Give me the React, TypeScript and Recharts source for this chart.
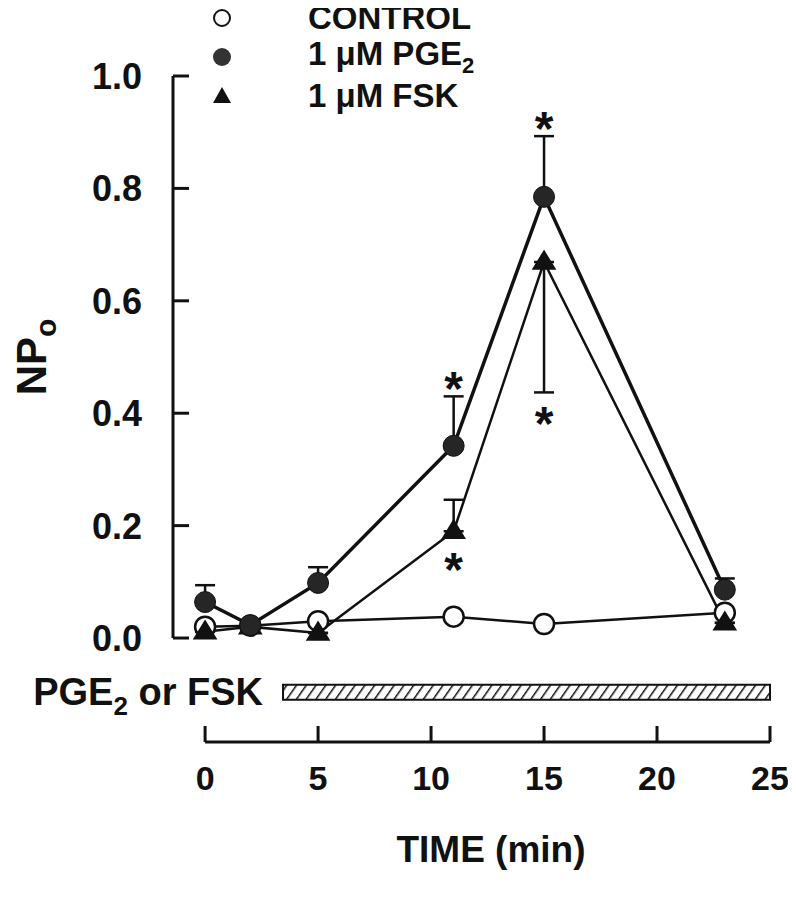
import React from 'react';
import {
  LineChart,
  Line,
  XAxis,
  YAxis,
  ErrorBar,
  ReferenceLine,
  ReferenceArea,
  ReferenceDot,
  Legend,
} from 'recharts';

// time after start of recording (min)
const timeMin = [0, 2, 5, 11, 15, 23];
const controlNPo = [0.02, 0.022, 0.03, 0.038, 0.025, 0.045];
const pgeNPo = [0.064, 0.023, 0.098, 0.342, 0.785, 0.086];
const pgeErrUp = [0.03, 0, 0.028, 0.088, 0.108, 0.02];
const fskNPo = [0.011, 0.02, 0.009, 0.19, 0.669, 0.027];
const fskErrUp = [0, 0, 0, 0.056, 0, 0];
const fskErrDown = [0, 0, 0, 0, 0.232, 0];
const pgeSignif = [false, false, false, true, true, false];
const fskSignif = [false, false, false, true, true, false];

const xTicks = [0, 5, 10, 15, 20, 25];
const yTicks = [0, 0.2, 0.4, 0.6, 0.8, 1.0];
const drugStart = 3.45;
const drugEnd = 25;
const seriesNames = ['CONTROL', '1 μM PGE2', '1 μM FSK'];

const X_MIN = -1.42;
const Y_MIN = -0.185;
const FONT = "'Liberation Sans', Arial, Helvetica, sans-serif";
const INK = '#111';

const data = timeMin.map((t, i) => ({
  t,
  control: controlNPo[i],
  pge: pgeNPo[i],
  pgeErr: [0, pgeErrUp[i]],
  fsk: fskNPo[i],
  fskErr: [fskErrDown[i], fskErrUp[i]],
}));

const YTick = (props: any) => {
  const { x, y, payload } = props;
  return (
    <g>
      <line x1={x} y1={y} x2={x + 16} y2={y} stroke={INK} strokeWidth={3} />
      <text x={x - 31} y={y + 13} textAnchor="end" fontFamily={FONT} fontWeight={700} fontSize={36} fill={INK}>
        {payload.value.toFixed(1)}
      </text>
    </g>
  );
};

const XTick = (props: any) => {
  const { x, y, payload } = props;
  return (
    <g>
      <line x1={x} y1={y} x2={x} y2={y - 16} stroke={INK} strokeWidth={3} />
      <text x={x} y={y + 48} textAnchor="middle" fontFamily={FONT} fontWeight={700} fontSize={34} fill={INK}>
        {payload.value}
      </text>
    </g>
  );
};

const Triangle = (props: any) => {
  const { cx, cy } = props;
  if (cx == null || cy == null) return null;
  return (
    <polygon
      points={`${cx},${cy - 11} ${cx - 11},${cy + 7} ${cx + 11},${cy + 7}`}
      fill={INK}
      stroke={INK}
      strokeWidth={1.5}
    />
  );
};

const Star = (dy: number) => (props: any) => {
  const vb = props.viewBox || {};
  const cx = vb.x + (vb.width || 0) / 2;
  const cy = vb.y + (vb.height || 0) / 2;
  return (
    <text x={cx} y={cy + dy + 27} textAnchor="middle" fontFamily={FONT} fontWeight={700} fontSize={48} fill={INK}>
      *
    </text>
  );
};

const DrugLabel = (props: any) => {
  const vb = props.viewBox || {};
  return (
    <text x={vb.x - 20} y={vb.y + vb.height / 2 + 13} textAnchor="end" fontFamily={FONT} fontWeight={700} fontSize={38} fill={INK}>
      PGE<tspan dy={10} fontSize={26}>2</tspan>
      <tspan dy={-10}> or FSK</tspan>
    </text>
  );
};

const NPoLabel = () => (
  <text
    transform="translate(38, 349) rotate(-90)"
    textAnchor="middle"
    fontFamily={FONT}
    fontWeight={700}
    fontSize={42}
    fill={INK}
  >
    NP<tspan dy={10} fontSize={30}>o</tspan>
  </text>
);

const TimeLabel = () => (
  <text x={483} y={854} textAnchor="middle" fontFamily={FONT} fontWeight={700} fontSize={37} fill={INK}>
    TIME (min)
  </text>
);

const legendMarker = (i: number) => {
  if (i === 0) return <circle cx={12} cy={12} r={8} fill="#fff" stroke={INK} strokeWidth={2} />;
  if (i === 1) return <circle cx={12} cy={12} r={9} fill="#333" />;
  return <polygon points="12,3 3,19 21,19" fill={INK} />;
};

const LegendBox = () => (
  <div style={{ fontFamily: FONT, fontWeight: 700, fontSize: 33, color: INK }}>
    {seriesNames.map((n, i) => (
      <div key={n} style={{ display: 'flex', alignItems: 'center', height: 39 }}>
        <svg width={24} height={24} style={{ marginRight: 74 }}>
          {legendMarker(i)}
        </svg>
        <span>
          {n.endsWith('2') ? (
            <>
              {n.slice(0, -1)}
              <sub style={{ fontSize: 22 }}>2</sub>
            </>
          ) : (
            n
          )}
        </span>
      </div>
    ))}
  </div>
);

export default function App() {
  return (
    <div style={{ width: 780, height: 880, background: '#fff' }}>
      <LineChart width={780} height={880} data={data} margin={{ top: 68, right: 18, left: 85, bottom: 86 }}>
        <defs>
          <pattern id="hatch" width={8} height={12} patternUnits="userSpaceOnUse" patternTransform="rotate(35)">
            <line x1={0} y1={0} x2={0} y2={12} stroke={INK} strokeWidth={3} />
          </pattern>
        </defs>
        <XAxis
          dataKey="t"
          type="number"
          domain={[X_MIN, 25]}
          ticks={xTicks}
          allowDataOverflow
          axisLine={false}
          tickLine={false}
          tickSize={0}
          tickMargin={0}
          height={60}
          tick={<XTick />}
          label={<TimeLabel />}
        />
        <YAxis
          type="number"
          domain={[Y_MIN, 1.0]}
          ticks={yTicks}
          allowDataOverflow
          axisLine={false}
          tickLine={false}
          tickSize={0}
          tickMargin={0}
          width={80}
          tick={<YTick />}
          label={<NPoLabel />}
        />
        <Legend
          layout="horizontal"
          verticalAlign="middle"
          align="center"
          content={<LegendBox />}
          wrapperStyle={{ top: -10, left: 202, width: 330, height: 120 }}
        />
        <ReferenceLine
          segment={[{ x: X_MIN, y: 0 }, { x: X_MIN, y: 1.0 }]}
          stroke={INK}
          strokeWidth={3}
          ifOverflow="visible"
        />
        <ReferenceLine
          segment={[{ x: 0, y: Y_MIN }, { x: 25, y: Y_MIN }]}
          stroke={INK}
          strokeWidth={3}
          ifOverflow="visible"
        />
        <ReferenceArea
          x1={drugStart}
          x2={drugEnd}
          y1={-0.11}
          y2={-0.083}
          fill="url(#hatch)"
          fillOpacity={1}
          stroke={INK}
          strokeWidth={2}
          ifOverflow="visible"
          label={DrugLabel}
        />
        <Line
          dataKey="control"
          type="linear"
          stroke={INK}
          strokeWidth={2.5}
          dot={{ r: 10, fill: '#fff', stroke: INK, strokeWidth: 2.5 }}
          isAnimationActive={false}
        />
        <Line
          dataKey="fsk"
          type="linear"
          stroke={INK}
          strokeWidth={2.5}
          dot={<Triangle />}
          isAnimationActive={false}
        >
          <ErrorBar dataKey="fskErr" width={10} strokeWidth={2.5} stroke={INK} direction="y" />
        </Line>
        <Line
          dataKey="pge"
          type="linear"
          stroke={INK}
          strokeWidth={3.5}
          dot={{ r: 10.5, fill: '#262626', stroke: INK, strokeWidth: 1 }}
          isAnimationActive={false}
        >
          <ErrorBar dataKey="pgeErr" width={10} strokeWidth={2.5} stroke={INK} direction="y" />
        </Line>
        {timeMin.map((t, i) =>
          pgeSignif[i] ? (
            <ReferenceDot key={`ps${t}`} x={t} y={pgeNPo[i] + pgeErrUp[i]} r={0} stroke="none" fill="none" label={Star(-18)} />
          ) : null
        )}
        {timeMin.map((t, i) =>
          fskSignif[i] ? (
            <ReferenceDot
              key={`fs${t}`}
              x={t}
              y={fskNPo[i] - fskErrDown[i]}
              r={0}
              stroke="none"
              fill="none"
              label={Star(fskErrDown[i] > 0 ? 21 : 28)}
            />
          ) : null
        )}
      </LineChart>
    </div>
  );
}
